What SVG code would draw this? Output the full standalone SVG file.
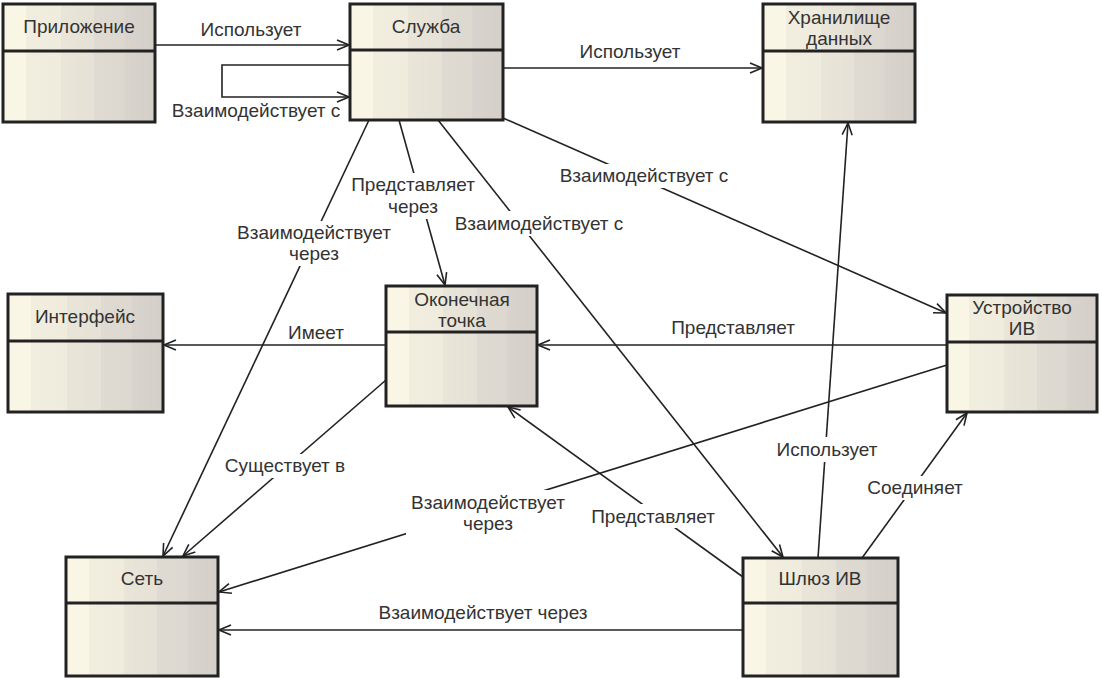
<svg xmlns="http://www.w3.org/2000/svg" width="1102" height="679" viewBox="0 0 1102 679">
<style>
.box{fill:url(#g);stroke:#222;stroke-width:3}
.div{stroke:#222;stroke-width:3}
.t{font-family:"Liberation Sans",Arial,sans-serif;font-size:19px;fill:#333;text-anchor:middle}
.c{fill:none;stroke:#222;stroke-width:1.6}
.a{marker-end:url(#arr)}
.bg{fill:#fff}
</style>
<defs>
<linearGradient id="g" x1="0" y1="0" x2="1" y2="0">
<stop offset="0" stop-color="#faf6e6"/>
<stop offset="0.15" stop-color="#faf6e6"/>
<stop offset="0.15" stop-color="#f2eedf"/>
<stop offset="0.38" stop-color="#f0ecdd"/>
<stop offset="0.38" stop-color="#e9e5d8"/>
<stop offset="0.6" stop-color="#e6e1d6"/>
<stop offset="0.6" stop-color="#e0dbd2"/>
<stop offset="0.8" stop-color="#dcd7cf"/>
<stop offset="0.8" stop-color="#d8d3cc"/>
<stop offset="1" stop-color="#d4cfc9"/>
</linearGradient>
<marker id="arr" markerUnits="userSpaceOnUse" markerWidth="14" markerHeight="12" refX="13" refY="6" orient="auto">
<path d="M1,1 L13,6 L1,11" fill="none" stroke="#222" stroke-width="1.6"/>
</marker>
</defs>

<g id="connectors">
<line class="c a" x1="155" y1="45" x2="349" y2="45"/>
<polyline class="c a" points="350,65 222,65 222,97 349,97"/>
<line class="c a" x1="503" y1="68" x2="762" y2="68"/>
<line class="c a" x1="503" y1="118" x2="946" y2="313"/>
<line class="c a" x1="399" y1="120" x2="445" y2="285"/>
<line class="c a" x1="369" y1="120" x2="163" y2="556"/>
<line class="c a" x1="438" y1="120" x2="783" y2="557"/>
<line class="c a" x1="386" y1="345" x2="164" y2="345"/>
<line class="c a" x1="947" y1="345" x2="538" y2="345"/>
<line class="c a" x1="386" y1="380" x2="183" y2="556"/>
<line class="c a" x1="947" y1="365" x2="219" y2="592"/>
<line class="c a" x1="743" y1="577" x2="508" y2="407"/>
<line class="c a" x1="818" y1="558" x2="848" y2="123"/>
<line class="c a" x1="862" y1="558" x2="967" y2="413"/>
<line class="c a" x1="743" y1="630" x2="219" y2="630"/>
</g>

<g id="labels">
<text class="t" x="251" y="36">Использует</text>
<text class="t" x="256" y="117">Взаимодействует с</text>
<text class="t" x="630" y="58">Использует</text>
<rect class="bg" x="555" y="164" width="178" height="24"/>
<text class="t" x="644" y="182">Взаимодействует с</text>
<rect class="bg" x="348" y="173" width="130" height="46"/>
<text class="t" x="413" y="191">Представляет</text>
<text class="t" x="413" y="213">через</text>
<rect class="bg" x="233" y="221" width="163" height="45"/>
<text class="t" x="314" y="239">Взаимодействует</text>
<text class="t" x="314" y="260">через</text>
<rect class="bg" x="450" y="211" width="178" height="25"/>
<text class="t" x="539" y="230">Взаимодействует с</text>
<text class="t" x="316" y="339">Имеет</text>
<text class="t" x="733" y="334">Представляет</text>
<rect class="bg" x="220" y="454" width="130" height="24"/>
<text class="t" x="285" y="472">Существует в</text>
<rect class="bg" x="406" y="490" width="164" height="46"/>
<text class="t" x="488" y="509">Взаимодействует</text>
<text class="t" x="488" y="530">через</text>
<rect class="bg" x="587" y="504" width="133" height="24"/>
<text class="t" x="653" y="523">Представляет</text>
<rect class="bg" x="772" y="437" width="111" height="25"/>
<text class="t" x="827" y="456">Использует</text>
<rect class="bg" x="863" y="476" width="105" height="24"/>
<text class="t" x="915" y="494">Соединяет</text>
<text class="t" x="483" y="619">Взаимодействует через</text>
</g>

<g id="n-app">
<rect class="box" x="3" y="4" width="152" height="118"/>
<line class="div" x1="3" y1="51" x2="155" y2="51"/>
<text class="t" x="79" y="33">Приложение</text>
</g>
<g id="n-service">
<rect class="box" x="350" y="4" width="153" height="116"/>
<line class="div" x1="350" y1="50" x2="503" y2="50"/>
<text class="t" x="426" y="33">Служба</text>
</g>
<g id="n-store">
<rect class="box" x="763" y="4" width="152" height="118"/>
<line class="div" x1="763" y1="51" x2="915" y2="51"/>
<text class="t" x="839" y="24">Хранилище</text>
<text class="t" x="839" y="45">данных</text>
</g>
<g id="n-interface">
<rect class="box" x="8" y="294" width="155" height="118"/>
<line class="div" x1="8" y1="341" x2="163" y2="341"/>
<text class="t" x="85" y="323">Интерфейс</text>
</g>
<g id="n-endpoint">
<rect class="box" x="386" y="286" width="151" height="120"/>
<line class="div" x1="386" y1="332" x2="537" y2="332"/>
<text class="t" x="462" y="306">Оконечная</text>
<text class="t" x="462" y="327">точка</text>
</g>
<g id="n-device">
<rect class="box" x="947" y="295" width="150" height="117"/>
<line class="div" x1="947" y1="342" x2="1097" y2="342"/>
<text class="t" x="1022" y="314">Устройство</text>
<text class="t" x="1022" y="335">ИВ</text>
</g>
<g id="n-net">
<rect class="box" x="66" y="557" width="152" height="119"/>
<line class="div" x1="66" y1="603" x2="218" y2="603"/>
<text class="t" x="142" y="585">Сеть</text>
</g>
<g id="n-gateway">
<rect class="box" x="743" y="558" width="155" height="118"/>
<line class="div" x1="743" y1="603" x2="898" y2="603"/>
<text class="t" x="820" y="585">Шлюз ИВ</text>
</g>
</svg>
